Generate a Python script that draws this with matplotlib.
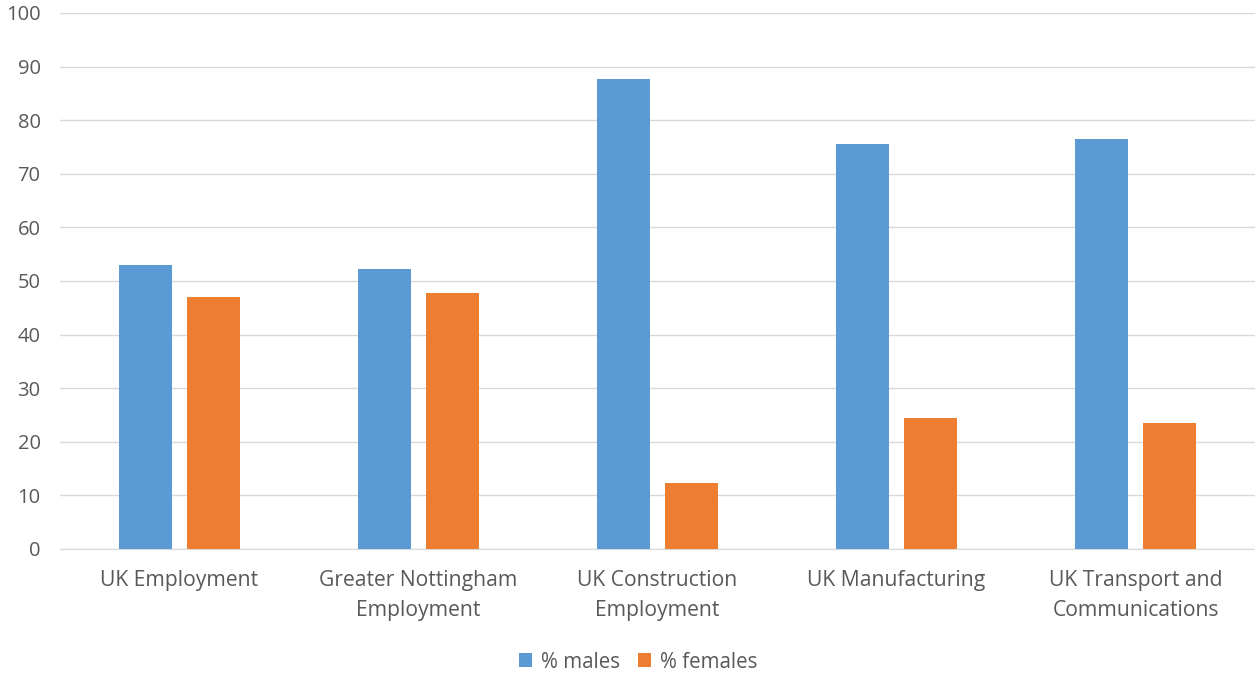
import matplotlib
matplotlib.use("Agg")
import matplotlib.pyplot as plt
import numpy as np

categories = ["UK Employment", "Greater Nottingham\nEmployment", "UK Construction\nEmployment",
              "UK Manufacturing", "UK Transport and\nCommunications"]
males = [53.0, 52.3, 87.6, 75.5, 76.4]
females = [47.0, 47.7, 12.4, 24.5, 23.6]
yticks = list(range(0, 101, 10))

plt.rcParams['font.family'] = ['Open Sans', 'DejaVu Sans']

fig = plt.figure(figsize=(12.55, 6.75), dpi=100)
ax = fig.add_axes([60/1255, 1-549/675, 1195/1255, 536/675])

x = np.arange(len(categories))
w = 0.222
gap = 0.063
ax.bar(x - (w+gap)/2, males, width=w, color="#5B9BD5", label="% males", zorder=3)
ax.bar(x + (w+gap)/2, females, width=w, color="#ED7D31", label="% females", zorder=3)

ax.set_xlim(-0.5, len(categories) - 0.5)
ax.set_ylim(0, 100)
ax.set_yticks(yticks)
ax.set_yticklabels([str(t) for t in yticks], fontsize=14.5, color="#595959")
ax.set_xticks(x)
ax.set_xticklabels(categories, fontsize=15.2, color="#595959", linespacing=1.55)
ax.tick_params(axis='both', length=0)
ax.tick_params(axis='x', pad=15)
ax.tick_params(axis='y', pad=14)
ax.grid(axis='y', color="#D9D9D9", linewidth=1, zorder=0)
for s in ["top", "right", "left"]:
    ax.spines[s].set_visible(False)
ax.spines["bottom"].set_color("#D9D9D9")

fig.legend(loc="center", bbox_to_anchor=(638/1255, 1-662/675), ncol=2, frameon=False,
           fontsize=14.8, handlelength=0.65, handleheight=0.65, handletextpad=0.4,
           columnspacing=0.9, labelcolor="#595959")

fig.savefig("out.png", dpi=100)
